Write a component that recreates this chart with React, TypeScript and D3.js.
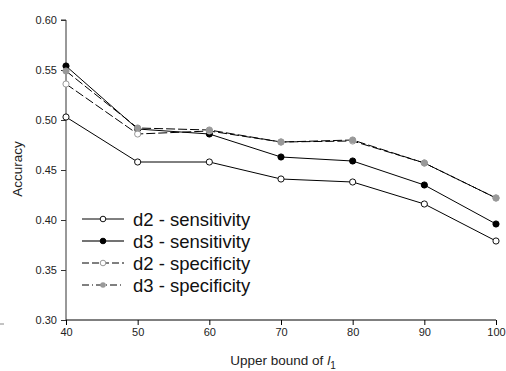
import { useRef, useEffect } from 'react'
import * as d3 from 'd3'

const bounds = [40, 50, 60, 70, 80, 90, 100]
const d2Sens = [0.503, 0.458, 0.458, 0.441, 0.438, 0.416, 0.379]
const d3Sens = [0.554, 0.491, 0.486, 0.463, 0.459, 0.435, 0.396]
const d2Spec = [0.536, 0.486, 0.489, 0.478, 0.479, 0.457, 0.422]
const d3Spec = [0.549, 0.492, 0.490, 0.478, 0.480, 0.457, 0.422]
const yTicks = [0.3, 0.35, 0.4, 0.45, 0.5, 0.55, 0.6]
const seriesNames = ['d2 - sensitivity', 'd3 - sensitivity', 'd2 - specificity', 'd3 - specificity']

interface Style {
  dash: string
  legendDash: string
  fill: string
  stroke: string
}

const STYLES: Style[] = [
  { dash: '', legendDash: '', fill: '#fff', stroke: '#111' },
  { dash: '', legendDash: '', fill: '#000', stroke: '#000' },
  { dash: '9,3', legendDash: '7,3', fill: '#fff', stroke: '#999' },
  { dash: '9,3', legendDash: '7,3,1,3', fill: '#999', stroke: '#999' },
]

export default function App() {
  const svgRef = useRef<SVGSVGElement>(null)

  useEffect(() => {
    if (!svgRef.current) return
    const svg = d3.select(svgRef.current)
    svg.selectAll('*').remove()

    const width = 506
    const height = 371
    const font = 'Liberation Sans, Arial, sans-serif'

    const x = d3.scaleLinear().domain([40, 100]).range([66, 496])
    const y = d3.scaleLinear().domain([0.3, 0.6]).range([320, 20])

    // y axis
    const ya = svg.append('g').attr('transform', 'translate(66,0)')
      .call(d3.axisLeft(y).tickValues(yTicks).tickFormat(d3.format('.2f')).tickSize(5).tickPadding(4))
    ya.select('.domain').attr('stroke', '#333').attr('d', `M-5,20H0V320`)
    ya.selectAll('line').attr('stroke', '#333')
    ya.selectAll('text').style('font-family', font).style('font-size', '11px').attr('fill', '#222')

    // x axis
    const xa = svg.append('g').attr('transform', 'translate(0,320)')
      .call(d3.axisBottom(x).tickValues(bounds).tickSize(5).tickPadding(3))
    xa.select('.domain').attr('stroke', '#000').attr('d', `M66,0H496`)
    xa.selectAll('line').attr('stroke', '#000')
    xa.selectAll('text').style('font-family', font).style('font-size', '11px').attr('fill', '#222')

    // axis titles
    svg.append('text')
      .attr('transform', 'translate(22,169) rotate(-90)')
      .attr('text-anchor', 'middle')
      .style('font-family', font).style('font-size', '13.5px').attr('fill', '#222')
      .text('Accuracy')

    const xt = svg.append('text')
      .attr('x', 283).attr('y', 365)
      .attr('text-anchor', 'middle')
      .style('font-family', font).style('font-size', '13.5px').attr('fill', '#222')
    xt.append('tspan').text('Upper bound of ')
    xt.append('tspan').style('font-style', 'italic').text('l')
    xt.append('tspan').attr('dy', 4).style('font-size', '10px').text('1')

    // small stray mark bottom-left
    svg.append('line').attr('x1', 0).attr('x2', 4).attr('y1', 324).attr('y2', 324)
      .attr('stroke', '#888').attr('stroke-width', 1)

    const all = [d2Sens, d3Sens, d2Spec, d3Spec]
    const line = d3.line<number>().x((_, i) => x(bounds[i])).y(d => y(d))

    const order = [0, 1, 2, 3]
    order.forEach(k => {
      const st = STYLES[k]
      svg.append('path')
        .attr('d', line(all[k]))
        .attr('fill', 'none')
        .attr('stroke', '#000')
        .attr('stroke-width', 1)
        .attr('stroke-dasharray', st.dash || null)
    })
    order.forEach(k => {
      const st = STYLES[k]
      svg.selectAll(`.pt-${k}`)
        .data(all[k])
        .join('circle')
        .attr('class', `pt-${k}`)
        .attr('cx', (_, i) => x(bounds[i]))
        .attr('cy', d => y(d))
        .attr('r', 3.1)
        .attr('fill', st.fill)
        .attr('stroke', st.stroke)
        .attr('stroke-width', 1)
    })

    // legend
    const rowY = [219, 241, 263, 285]
    seriesNames.forEach((name, k) => {
      const st = STYLES[k]
      const ly = rowY[k]
      svg.append('line')
        .attr('x1', 82).attr('x2', 124).attr('y1', ly).attr('y2', ly)
        .attr('stroke', k === 1 ? '#444' : '#000')
        .attr('stroke-width', k === 1 ? 1.5 : 1)
        .attr('stroke-dasharray', st.legendDash || null)
      svg.append('circle')
        .attr('cx', 103).attr('cy', ly).attr('r', 2.8)
        .attr('fill', st.fill).attr('stroke', k === 3 ? 'none' : st.stroke)
      svg.append('text')
        .attr('x', 133).attr('y', ly + 6.5)
        .style('font-family', font).style('font-size', '18.5px').attr('fill', '#111')
        .text(name)
    })

    svg.attr('width', width).attr('height', height)
  }, [])

  return (
    <svg ref={svgRef} width={506} height={371}
      style={{ position: 'absolute', left: 0, top: 0, background: '#fff' }} />
  )
}
